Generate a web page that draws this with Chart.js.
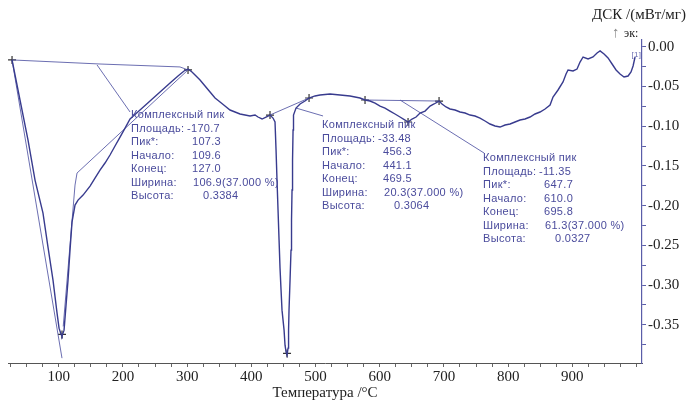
<!DOCTYPE html>
<html>
<head>
<meta charset="utf-8">
<script src="https://cdn.jsdelivr.net/npm/chart.js@4.4.1/dist/chart.umd.min.js"></script>
<style>
html,body{margin:0;padding:0;background:#fff;}
canvas{display:block;}
</style>
</head>
<body>
<canvas id="c" width="691" height="403"></canvas>
<script>
// ---- DSC curve (temperature °C, DSC mW/mg) ----
const temps = [27.3,39.7,52.2,63.1,75.5,83.3,91.1,97.4,100.5,103.6,105.1,108.3,111.4,114.5,117.6,120.7,125.4,130.1,137.9,148.8,156.5,164.3,172.1,179.9,187.7,195.5,203.3,211.1,226.6,242.2,257.8,273.4,285.8,295.2,301.4,307.6,313.9,320.1,327.9,335.7,343.5,351.3,359.0,366.8,374.6,382.4,390.2,398.0,405.8,410.4,416.7,422.9,429.1,433.8,436.9,438.5,440.0,441.6,443.2,444.7,446.3,447.8,451.0,452.5,454.1,455.6,457.2,458.0,458.7,460.3,461.8,462.6,463.4,464.2,465.0,465.7,469.6,475.9,483.6,489.9,499.2,507.0,522.6,538.2,553.7,569.3,577.1,584.9,592.7,600.5,608.2,616.0,623.8,631.6,639.4,644.1,650.3,656.6,662.8,670.6,678.4,684.6,692.4,697.0,703.3,709.5,717.3,725.1,732.9,740.7,748.4,756.2,764.0,771.8,779.6,787.4,795.2,803.0,810.7,818.5,826.3,834.1,841.9,849.7,857.5,865.3,869.9,877.7,885.5,890.2,893.3,901.1,907.3,912.0,916.7,924.5,932.2,938.5,943.2,949.4,955.6,961.9,968.1,974.3,980.5,986.8,991.4,994.6,997.7];
const dsc = [-0.0167,-0.0671,-0.1175,-0.1678,-0.2094,-0.2522,-0.2937,-0.3353,-0.3542,-0.3617,-0.3642,-0.3567,-0.3252,-0.2937,-0.2560,-0.2207,-0.1993,-0.1930,-0.1867,-0.1754,-0.1653,-0.1552,-0.1464,-0.1363,-0.1250,-0.1137,-0.1024,-0.0910,-0.0797,-0.0684,-0.0570,-0.0457,-0.0369,-0.0306,-0.0281,-0.0318,-0.0369,-0.0419,-0.0495,-0.0570,-0.0646,-0.0696,-0.0747,-0.0797,-0.0822,-0.0847,-0.0860,-0.0872,-0.0860,-0.0885,-0.0910,-0.0885,-0.0860,-0.0898,-0.0948,-0.1300,-0.1678,-0.2056,-0.2434,-0.2786,-0.3063,-0.3315,-0.3567,-0.3756,-0.3844,-0.3881,-0.3793,-0.3567,-0.3315,-0.2937,-0.2560,-0.2182,-0.1804,-0.1426,-0.1049,-0.0860,-0.0772,-0.0721,-0.0684,-0.0646,-0.0620,-0.0608,-0.0595,-0.0608,-0.0620,-0.0646,-0.0671,-0.0684,-0.0709,-0.0747,-0.0772,-0.0810,-0.0847,-0.0885,-0.0923,-0.0948,-0.0910,-0.0885,-0.0835,-0.0810,-0.0747,-0.0721,-0.0684,-0.0721,-0.0759,-0.0784,-0.0797,-0.0822,-0.0835,-0.0860,-0.0872,-0.0898,-0.0935,-0.0973,-0.0998,-0.1011,-0.0986,-0.0973,-0.0948,-0.0923,-0.0910,-0.0885,-0.0847,-0.0822,-0.0784,-0.0734,-0.0633,-0.0545,-0.0444,-0.0344,-0.0293,-0.0306,-0.0281,-0.0193,-0.0130,-0.0155,-0.0130,-0.0079,-0.0054,-0.0092,-0.0142,-0.0218,-0.0293,-0.0344,-0.0381,-0.0369,-0.0318,-0.0243,-0.0130];

// ---- evaluation construction lines [T, DSC] ----
const baseline1 = [[27.3,-0.0167],[164.3,-0.0218],[288.9,-0.0255],[301.4,-0.0293]];
const tangentL1 = [[27.3,-0.0167],[105.1,-0.3919]];
const tangentR1 = [[301.4,-0.0293],[128.5,-0.1590],[125.4,-0.1741],[107.0,-0.3520]];
const baseline2 = [[429.1,-0.0860],[489.9,-0.0646]];
const baseline3 = [[577.1,-0.0671],[692.4,-0.0684]];
const leader1 = [[159.7,-0.0230],[211.1,-0.0822]];
const leader2 = [[469.6,-0.0772],[511.7,-0.0872]];
const leader3 = [[631.6,-0.0671],[762.5,-0.1338]];
const markers = [[27.3,-0.0167],[105.1,-0.3620],[301.4,-0.0293],[429.1,-0.0860],[489.9,-0.0646],[455.6,-0.3860],[577.1,-0.0671],[644.1,-0.0948],[692.4,-0.0684]];

// ---- peak report texts ----
const reportLabels = ["Комплексный пик","Площадь:","Пик*:","Начало:","Конец:","Ширина:","Высота:"];
const peak1Values = ["","-170.7","107.3","109.6","127.0","106.9(37.000 %)","0.3384"];
const peak2Values = ["","-33.48","456.3","441.1","469.5","20.3(37.000 %)","0.3064"];
const peak3Values = ["","-11.35","647.7","610.0","695.8","61.3(37.000 %)","0.0327"];
const reportAnchors = [[212.6,-0.0860],[510.1,-0.0986],[760.9,-0.1401]];

// ---- axes ticks ----
const xTickValues = [];
for (let v = 25; v <= 1000; v += 25) xTickValues.push(v);
const yTickValues = [-0.375,-0.35,-0.325,-0.3,-0.275,-0.25,-0.225,-0.2,-0.175,-0.15,-0.125,-0.1,-0.075,-0.05,-0.025,0];

const curveColor = '#383b8e';
const auxColor = '#5a5da8';
const textColor = '#4a4b9c';

const pts = a => a.map(p => ({x:p[0], y:p[1]}));
const auxSet = a => ({data: pts(a), showLine:true, borderColor:auxColor, borderWidth:0.9, pointRadius:0, fill:false, tension:0});

const reportPlugin = {
  id: 'report',
  afterDatasetsDraw(chart) {
    const {ctx, scales:{x, y}} = chart;
    ctx.save();
    ctx.fillStyle = textColor;
    ctx.font = '11px "Liberation Sans", Arial, sans-serif';
    try { ctx.letterSpacing = '0.3px'; } catch(e) {}
    ctx.textBaseline = 'middle';
    ctx.textAlign = 'left';
    const valueOffsets = [0,56,61,61,61,62,72];
    const sets = [peak1Values, peak2Values, peak3Values];
    sets.forEach((vals, b) => {
      const ax = x.getPixelForValue(reportAnchors[b][0]);
      const ay = y.getPixelForValue(reportAnchors[b][1]);
      reportLabels.forEach((lab, i) => {
        const ly = ay + i * 13.5;
        ctx.fillText(lab, ax, ly);
        if (vals[i]) ctx.fillText(vals[i], ax + valueOffsets[i], ly);
      });
    });
    ctx.font = '8px "Liberation Sans", Arial, sans-serif';
    ctx.fillStyle = '#6a6cb0';
    ctx.fillText('[1]', x.getPixelForValue(992), y.getPixelForValue(-0.0105));
    ctx.restore();
  },
  afterDraw(chart) {
    const {ctx} = chart;
    ctx.save();
    ctx.fillStyle = '#222';
    ctx.textBaseline = 'middle';
    ctx.textAlign = 'right';
    ctx.font = '15px "Liberation Serif", "Times New Roman", serif';
    ctx.fillText('ДСК /(мВт/мг)', 686, 15);
    ctx.textAlign = 'left';
    ctx.fillStyle = '#888';
    ctx.fillText('↑', 612, 33);
    ctx.fillStyle = '#222';
    ctx.font = '12px "Liberation Serif", "Times New Roman", serif';
    ctx.fillText('эк:', 624, 34);
    ctx.restore();
  }
};

new Chart(document.getElementById('c'), {
  type: 'scatter',
  data: {
    datasets: [
      {data: temps.map((t,i)=>({x:t, y:dsc[i]})), showLine:true, borderColor:curveColor, borderWidth:1.4, pointRadius:0, fill:false, tension:0},
      auxSet(baseline1), auxSet(tangentL1), auxSet(tangentR1), auxSet(baseline2), auxSet(baseline3),
      auxSet(leader1), auxSet(leader2), auxSet(leader3),
      {data: pts(markers), showLine:false, pointStyle:'cross', pointRadius:4, borderColor:'#333', borderWidth:1.2}
    ]
  },
  options: {
    responsive: false,
    animation: false,
    layout: {padding: {left: 8, top: 40, right: 0, bottom: 0}},
    plugins: {legend: {display:false}, tooltip: {enabled:false}},
    scales: {
      x: {
        type: 'linear', min: 21, max: 1008.5,
        afterBuildTicks: s => { s.ticks = xTickValues.map(v => ({value:v})); },
        afterFit: s => { s.height = 40; },
        ticks: {
          autoSkip:false, maxRotation:0, padding:1, color:'#222',
          font: {family:'"Liberation Serif", "Times New Roman", serif', size:15},
          callback: v => (v % 100 === 0 && v < 1000) ? String(v) : ''
        },
        grid: {drawOnChartArea:false, drawTicks:true, tickLength:4, color:'#666'},
        border: {display:true, color:'#555', width:1},
        title: {display:true, text:'Температура /°C', color:'#222', padding:{top:0, bottom:1},
          font:{family:'"Liberation Serif", "Times New Roman", serif', size:15}}
      },
      y: {
        type: 'linear', position: 'right', min: -0.398, max: 0.0084,
        afterBuildTicks: s => { s.ticks = yTickValues.map(v => ({value:v})); },
        afterFit: s => { s.width = 49; },
        ticks: {
          autoSkip:false, padding:2, color:'#222',
          font: {family:'"Liberation Serif", "Times New Roman", serif', size:15},
          callback: v => (Math.round(v*1000) % 50 === 0) ? v.toFixed(2) : ''
        },
        grid: {drawOnChartArea:false, drawTicks:true, tickLength:4, color:'#5a5da8'},
        border: {display:true, color:'#5a5da8', width:1.2}
      }
    }
  },
  plugins: [reportPlugin]
});
</script>
</body>
</html>
